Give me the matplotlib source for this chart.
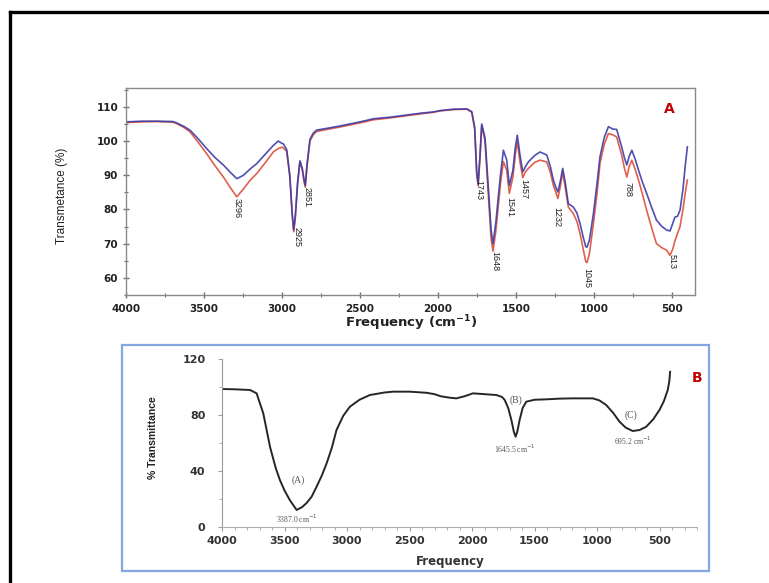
import matplotlib
matplotlib.use("Agg")
import matplotlib.pyplot as plt
from matplotlib.lines import Line2D
from matplotlib.patches import Rectangle
from matplotlib.ticker import MultipleLocator

# ---------------- Panel A data ----------------
freq_a = [4000, 3900, 3800, 3700, 3675, 3630, 3590, 3540, 3483, 3430, 3376, 3330, 3290,
          3247, 3205, 3162, 3110, 3056, 3024, 3000, 2992, 2970, 2950, 2935, 2925, 2915,
          2900, 2885, 2870, 2860, 2851, 2840, 2821, 2800, 2778, 2700, 2628, 2500, 2415,
          2300, 2201, 2100, 2030, 1987, 1900, 1816, 1784, 1765, 1752, 1743, 1732, 1720,
          1699, 1680, 1660, 1648, 1630, 1600, 1581, 1560, 1543, 1520, 1505, 1492, 1475,
          1457, 1440, 1421, 1380, 1346, 1303, 1280, 1261, 1245, 1232, 1215, 1201, 1185,
          1165, 1133, 1110, 1090, 1070, 1053, 1045, 1030, 1004, 980, 962, 935, 908, 880,
          855, 823, 805, 790, 775, 758, 735, 715, 690, 663, 630, 600, 565, 535, 513, 495,
          481, 465, 449, 430, 415, 402]
trans_blue = [105.6, 105.8, 105.8, 105.7, 105.3, 104.3, 103.2, 100.8, 97.8, 95.2, 93.0, 90.8, 89.0,
              90.0, 91.8, 93.4, 96.0, 98.7, 100.0, 99.3, 99.2, 97.5, 90.0, 79.0, 74.0, 78.0,
              88.0, 94.2, 92.0, 89.0, 87.0, 93.0, 100.5, 102.3, 103.2, 103.8, 104.4, 105.6, 106.5,
              107.0, 107.6, 108.2, 108.5, 108.9, 109.3, 109.4, 108.6, 104.0, 91.0, 87.5, 95.0, 105.0,
              101.0, 88.0, 74.0, 70.0, 76.0, 90.0, 97.3, 94.5, 87.0, 91.5, 98.0, 101.7, 96.0,
              91.0, 92.5, 93.9, 95.8, 96.8, 95.9, 92.5, 88.6, 86.5, 85.1, 88.5, 92.0, 88.0,
              81.7, 80.7, 79.0, 75.9, 72.0, 69.1, 69.0, 71.0, 78.8, 88.0, 95.4, 101.0, 104.2, 103.5,
              103.4, 98.3, 95.0, 93.0, 95.5, 97.3, 94.5, 91.5, 88.0, 84.7, 80.5, 76.9, 75.0, 74.0, 73.7, 76.0,
              77.8, 78.0, 79.8, 86.0, 93.0, 98.3]
trans_red = [105.4, 105.6, 105.7, 105.5, 105.1, 104.0, 102.7, 99.8, 96.3, 92.8, 89.5, 86.3, 83.7,
             86.0, 88.5, 90.5, 93.5, 96.8, 97.8, 98.2, 98.0, 97.0, 89.5, 78.5, 73.5, 77.5,
             87.5, 94.0, 91.5, 88.5, 86.5, 92.5, 100.0, 101.8, 102.8, 103.5, 104.1, 105.3, 106.2,
             106.8, 107.4, 108.0, 108.4, 108.8, 109.2, 109.3, 108.4, 103.5, 90.0, 87.0, 94.5, 104.5,
             100.0, 86.0, 71.5, 67.8, 73.5, 87.5, 94.0, 91.5, 84.7, 89.5, 96.0, 99.8, 94.0,
             89.3, 91.0, 92.0, 93.8, 94.4, 93.9, 90.8, 87.1, 85.0, 83.2, 87.0, 91.0, 86.5,
             80.7, 78.8, 76.5, 73.0, 68.5, 64.7, 64.5, 67.0, 75.9, 85.0, 93.5, 99.0, 102.2, 101.8,
             101.2, 95.9, 92.0, 89.5, 92.5, 94.4, 91.5, 88.6, 84.5, 79.8, 74.5, 70.0, 68.8, 68.1, 66.6, 68.5,
             70.9, 73.0, 75.0, 80.0, 85.0, 88.6]

peak_labels_a = ["3296", "2925", "2851", "1743", "1648", "1541", "1457", "1232", "1045", "788", "513"]
peak_text_x_a = [3290, 2906, 2842, 1737, 1635, 1543, 1449, 1239, 1047, 784, 502]
peak_text_y_a = [83.3, 74.8, 86.5, 88.5, 68.0, 83.6, 89.0, 80.6, 62.8, 88.0, 67.0]

# ---------------- Panel B data ----------------
freq_b = [4000, 4000, 3900, 3776, 3723, 3670, 3616, 3570, 3537, 3500, 3457, 3403, 3360, 3323,
          3283, 3243, 3200, 3163, 3120, 3084, 3030, 2977, 2900, 2817, 2700, 2631, 2500, 2364,
          2300, 2250, 2180, 2125, 2060, 1992, 1900, 1805, 1760, 1738, 1710, 1685, 1665, 1651,
          1638, 1619, 1595, 1566, 1500, 1406, 1300, 1200, 1100, 1033, 980, 926, 870, 820, 770,
          714, 660, 607, 550, 500, 465, 434, 422, 415]
trans_b = [0, 98.7, 98.5, 98.0, 95.6, 81.3, 57.3, 42.0, 33.5, 26.0, 19.0, 12.0, 14.0, 17.0,
           21.5, 28.7, 37.0, 45.4, 57.0, 69.3, 79.5, 86.0, 91.0, 94.4, 96.2, 96.8, 96.8, 96.0,
           95.0, 93.5, 92.5, 92.0, 93.5, 95.6, 95.0, 94.4, 93.0, 90.8, 85.0, 76.5, 68.0, 64.5,
           68.0, 76.5, 85.0, 89.6, 91.0, 91.3, 91.8, 92.0, 92.0, 92.0, 90.5, 87.2, 81.5, 75.3, 71.0,
           68.6, 69.3, 71.6, 77.0, 83.7, 90.0, 98.0, 104.0, 111.0]

band_names_b = ["(A)", "(B)", "(C)"]
band_name_pos_b = [(3393, 33.5), (1651, 90.8), (727, 80.0)]
band_values_b = ["3387.0 cm$^{-1}$", "1645.5 cm$^{-1}$", "695.2 cm$^{-1}$"]
band_value_pos_b = [(3403, 5.5), (1659, 56.0), (716, 61.4)]

# ---------------- figure ----------------
W, H = 769, 583
fig = plt.figure(figsize=(W / 100, H / 100), dpi=100)
fig.patch.set_facecolor("white")

def fx(px):
    return px / W

def fy(py):
    return 1 - py / H

NARROW = ["Liberation Sans Narrow", "Liberation Sans", "DejaVu Sans"]

# outer black frame (top and left visible)
fig.add_artist(Line2D([fx(10), 1.0], [fy(12), fy(12)], color="black", lw=2.4,
                      transform=fig.transFigure))
fig.add_artist(Line2D([fx(10), fx(10)], [fy(12), 0.0], color="black", lw=2.4,
                      transform=fig.transFigure))

# ---------- Panel A ----------
axA = fig.add_axes([fx(126), fy(295), fx(695) - fx(126), fy(88) - fy(295)])
axA.plot(freq_a, trans_red, color="#e0604c", lw=1.2)
axA.plot(freq_a, trans_blue, color="#3c3ca8", lw=1.2, alpha=0.9)
axA.set_xlim(4000, 353)
axA.set_ylim(55, 115.5)
axA.xaxis.set_major_locator(MultipleLocator(500))
axA.xaxis.set_minor_locator(MultipleLocator(250))
axA.yaxis.set_major_locator(MultipleLocator(10))
axA.yaxis.set_minor_locator(MultipleLocator(5))
axA.set_yticks([60, 70, 80, 90, 100, 110])
for s in axA.spines.values():
    s.set_color("#8a8a8a")
    s.set_linewidth(1.0)
axA.tick_params(which="both", direction="inout", color="#707070", labelsize=7.5)
axA.tick_params(which="major", length=5, width=1)
axA.tick_params(which="minor", length=3, width=0.8)
axA.tick_params(axis="x", which="major", pad=4)
axA.tick_params(axis="y", which="major", pad=3)
for lab in axA.get_xticklabels() + axA.get_yticklabels():
    lab.set_fontweight("bold")
    lab.set_color("#222222")

for t, x, y in zip(peak_labels_a, peak_text_x_a, peak_text_y_a):
    axA.text(x, y, t, rotation=270, ha="center", va="top", fontsize=6.5,
             family=NARROW, color="#222222")

axA.text(0.955, 0.9, "A", transform=axA.transAxes, color="#c00000", fontsize=10,
         fontweight="bold", ha="center", va="center")

fig.text(fx(62), fy(196), "Transmetance (%)", rotation=90, ha="center", va="center",
         fontsize=8.5, family=NARROW, color="#222222")
fig.text(fx(411), fy(323), "Frequency (cm$^{\\mathbf{-1}}$)", ha="center", va="center",
         fontsize=9.5, fontweight="bold", color="#222222")

# ---------- Panel B ----------
fig.add_artist(Rectangle((fx(122), fy(571)), fx(709) - fx(122), fy(345) - fy(571),
                         fill=False, edgecolor="#86a6e2", lw=1.6, transform=fig.transFigure))

axB = fig.add_axes([fx(222), fy(526.7), fx(697) - fx(222), fy(359.3) - fy(526.7)])
axB.plot(freq_b, trans_b, color="#262626", lw=1.4)
axB.set_xlim(4000, 200)
axB.set_ylim(0, 120)
axB.xaxis.set_major_locator(MultipleLocator(500))
axB.xaxis.set_minor_locator(MultipleLocator(100))
axB.yaxis.set_major_locator(MultipleLocator(40))
axB.yaxis.set_minor_locator(MultipleLocator(20))
axB.set_xticks([4000, 3500, 3000, 2500, 2000, 1500, 1000, 500])
axB.spines["top"].set_visible(False)
axB.spines["right"].set_visible(False)
axB.spines["left"].set_color("#9a9a9a")
axB.spines["bottom"].set_color("#b0b0b0")
axB.tick_params(which="both", color="#a0a0a0", labelsize=8, labelcolor="#333333")
axB.tick_params(which="major", length=3)
axB.tick_params(which="minor", length=2)
axB.tick_params(axis="y", pad=9)
axB.tick_params(axis="x", pad=4)
for lab in axB.get_xticklabels() + axB.get_yticklabels():
    lab.set_fontweight("semibold")

for t, (x, y) in zip(band_names_b, band_name_pos_b):
    axB.text(x, y, t, ha="center", va="center", fontsize=7, family="Liberation Serif",
             color="#555555")
for t, (x, y) in zip(band_values_b, band_value_pos_b):
    axB.text(x, y, t, ha="center", va="center", fontsize=5.5, family="Liberation Serif",
             color="#555555")

fig.text(fx(697), fy(378), "B", color="#c00000", fontsize=10, fontweight="bold",
         ha="center", va="center")
fig.text(fx(153), fy(438), "% Transmittance", rotation=90, ha="center", va="center",
         fontsize=7.5, fontweight="bold", family=NARROW, color="#222222")
fig.text(fx(450), fy(561), "Frequency", ha="center", va="center", fontsize=8.5,
         fontweight="bold", color="#333333")

fig.savefig("out.png", dpi=100)
